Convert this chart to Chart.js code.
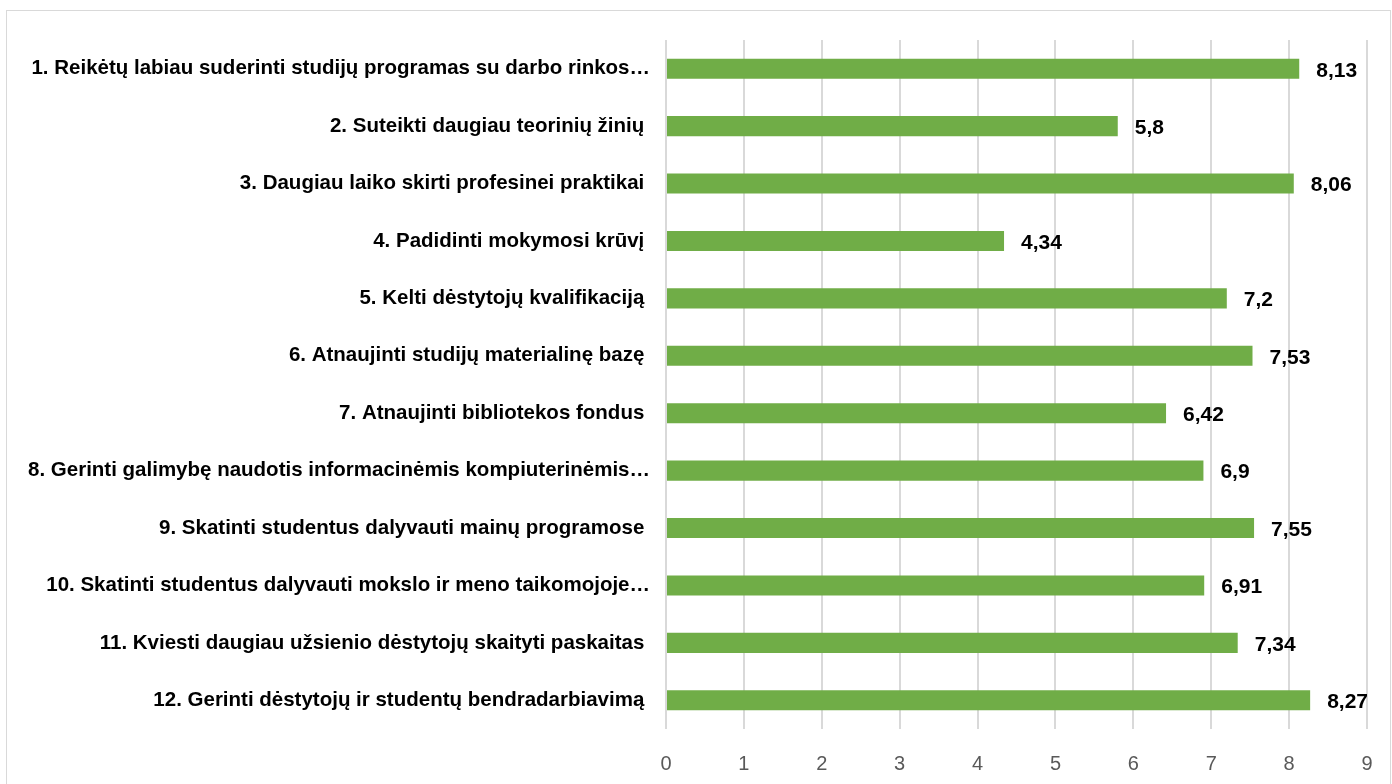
<!DOCTYPE html>
<html>
<head>
<meta charset="utf-8">
<script src="https://cdn.jsdelivr.net/npm/chart.js@4/dist/chart.umd.min.js"></script>
<style>
  html, body { margin: 0; padding: 0; background: #fff; }
  #wrap { position: relative; width: 1392px; height: 784px; }
  #chart { display: block; }
  #frame { position: absolute; left: 6px; top: 10px; width: 1383px; height: 790px; border: 1px solid #d9d9d9; pointer-events: none; }
</style>
</head>
<body>
<div id="wrap">
  <canvas id="chart" width="1392" height="784"></canvas>
  <div id="frame"></div>
</div>
<script>
const categories = [
    '1. Reikėtų labiau suderinti studijų programas su darbo rinkos…',
    '2. Suteikti daugiau teorinių žinių ',
    '3. Daugiau laiko skirti profesinei praktikai ',
    '4. Padidinti mokymosi krūvį ',
    '5. Kelti dėstytojų kvalifikaciją ',
    '6. Atnaujinti studijų materialinę bazę ',
    '7. Atnaujinti bibliotekos fondus ',
    '8. Gerinti galimybę naudotis informacinėmis kompiuterinėmis…',
    '9. Skatinti studentus dalyvauti mainų programose ',
    '10. Skatinti studentus dalyvauti mokslo ir meno taikomojoje…',
    '11. Kviesti daugiau užsienio dėstytojų skaityti paskaitas ',
    '12. Gerinti dėstytojų ir studentų bendradarbiavimą ',
];
const scores = [8.13, 5.8, 8.06, 4.34, 7.2, 7.53, 6.42, 6.9, 7.55, 6.91, 7.34, 8.27];
const xTicks = [0, 1, 2, 3, 4, 5, 6, 7, 8, 9];

const labelFont = '"Liberation Sans", Arial, sans-serif';

// value labels to the right of each bar, decimal comma like the original
const valueLabels = {
    id: 'valueLabels',
    afterDatasetsDraw(chart) {
        const ctx = chart.ctx;
        const meta = chart.getDatasetMeta(0);
        ctx.save();
        ctx.font = 'bold 21px ' + labelFont;
        ctx.fillStyle = '#000';
        ctx.textAlign = 'left';
        ctx.textBaseline = 'middle';
        meta.data.forEach((bar, i) => {
            const text = String(scores[i]).replace('.', ',');
            ctx.fillText(text, bar.x + 17, bar.y + 2);
        });
        ctx.restore();
    }
};

const ctx = document.getElementById('chart').getContext('2d');
new Chart(ctx, {
    type: 'bar',
    data: {
        labels: categories,
        datasets: [
            {
                data: scores,
                backgroundColor: '#70ad47',
                barPercentage: 0.7,
                categoryPercentage: 0.5,
            },
        ],
    },
    options: {
        indexAxis: 'y',
        responsive: false,
        animation: false,
        layout: { padding: { top: 40, right: 25, bottom: 0, left: 0 } },
        plugins: {
            legend: { display: false },
            tooltip: { enabled: false },
        },
        scales: {
            x: {
                min: 0,
                max: 9,
                afterBuildTicks(scale) {
                    scale.ticks = xTicks.map(v => ({ value: v }));
                },
                afterFit(scale) {
                    scale.height = 55;
                    scale.paddingLeft = 0;
                    scale.paddingRight = 0;
                },
                grid: { color: '#d9d9d9', lineWidth: 2, drawTicks: false },
                border: { display: false },
                ticks: {
                    color: '#595959',
                    padding: 23,
                    font: { family: labelFont, size: 20 },
                },
            },
            y: {
                afterFit(scale) { scale.width = 666; },
                grid: { display: false },
                border: { display: false },
                ticks: {
                    autoSkip: false,
                    color: '#000',
                    padding: 8,
                    font: { family: labelFont, size: 20.5, weight: 'bold' },
                },
            },
        },
    },
    plugins: [valueLabels],
});
</script>
</body>
</html>
